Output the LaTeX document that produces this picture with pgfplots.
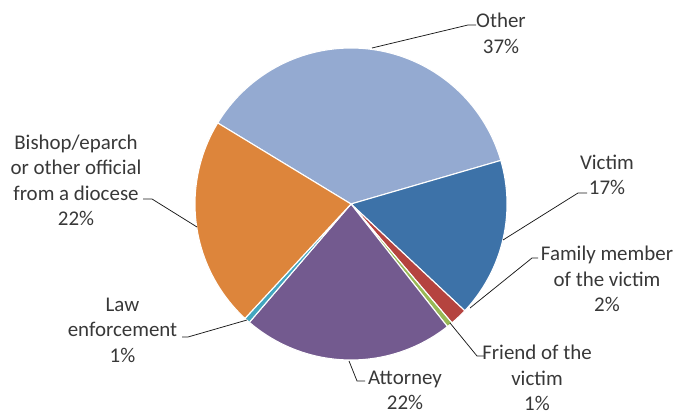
\documentclass[border=0pt]{standalone}
\usepackage{pgfplots}
\usepackage{pgfplotstable}
\pgfplotsset{compat=1.18}
\usepackage{fontspec}
\setmainfont{Carlito}
\definecolor{cOther}{HTML}{94AAD1}
\definecolor{cVictim}{HTML}{3D72A8}
\definecolor{cFamily}{HTML}{B5433F}
\definecolor{cFriend}{HTML}{98B855}
\definecolor{cAttorney}{HTML}{735A8F}
\definecolor{cLaw}{HTML}{43A6BF}
\definecolor{cBishop}{HTML}{DD853B}
\definecolor{textc}{HTML}{383838}
\pgfplotstableread{
label value color
Other 36.8 cOther
Victim 16.5 cVictim
Family 1.8 cFamily
Friend 0.6 cFriend
Attorney 21.9 cAttorney
Law 0.6 cLaw
Bishop 21.8 cBishop
}\piedata
\def\cx{351}
\def\cy{211}
\def\rr{156}
\def\startangle{148.7}
\begin{document}
\begin{tikzpicture}
\begin{axis}[
  scale only axis, width=689bp, height=415bp,
  xmin=0, xmax=689, ymin=0, ymax=415,
  hide axis, clip=false,
]
\pgfplotstablegetrowsof{\piedata}
\pgfmathtruncatemacro\N{\pgfplotsretval-1}
\def\cum{0}
\pgfplotsforeachungrouped \i in {0,...,\N}{%
  \pgfplotstablegetelem{\i}{value}\of\piedata \let\v\pgfplotsretval
  \pgfplotstablegetelem{\i}{color}\of\piedata \let\c\pgfplotsretval
  \pgfmathsetmacro\a{\startangle-3.6*\cum}%
  \pgfmathsetmacro\b{\startangle-3.6*(\cum+\v)}%
  \pgfmathsetmacro\cum{\cum+\v}%
  \edef\temp{\noexpand\addplot[fill=\c, draw=white, line width=1.1pt, line join=round, domain=\b:\a, samples=90, no marks]
    ({\cx+\rr*cos(x)},{\cy+\rr*sin(x)}) -- (axis cs:\cx,\cy) -- cycle;}%
  \temp
}
% leader lines
\addplot[black!90, line width=0.75pt, no marks] coordinates {(372,367) (468,390) (476,390)};
\addplot[black!90, line width=0.75pt, no marks] coordinates {(503,175) (578,222) (587,222)};
\addplot[black!90, line width=0.75pt, no marks] coordinates {(470,107) (532,157) (538,157)};
\addplot[black!90, line width=0.75pt, no marks] coordinates {(450,92) (477,59) (484,59)};
\addplot[black!90, line width=0.75pt, no marks] coordinates {(349,54) (357,34) (365,34)};
\addplot[black!90, line width=0.75pt, no marks] coordinates {(247,95) (188,78) (182,78)};
\addplot[black!90, line width=0.75pt, no marks] coordinates {(197,188) (152,216) (143,216)};
% labels
\tikzset{lab/.style={align=center, text=textc, inner sep=0pt, font=\fontsize{21}{25.5}\selectfont}}
\node[lab] at (axis cs:501,381.5) {Other\\37\%};
\node[lab] at (axis cs:607,240) {Victim\\17\%};
\node[lab] at (axis cs:607,136) {Family member\\of the victim\\2\%};
\node[lab] at (axis cs:537,37) {Friend of the\\victim\\1\%};
\node[lab] at (axis cs:405,24.5) {Attorney\\22\%};
\node[lab] at (axis cs:122.5,85) {Law\\enforcement\\1\%};
\node[lab] at (axis cs:76,234.5) {Bishop/eparch\\or other official\\from a diocese\\22\%};
\end{axis}
\pgfresetboundingbox
\path (current axis.south west) rectangle (current axis.north east);
\end{tikzpicture}
\end{document}
